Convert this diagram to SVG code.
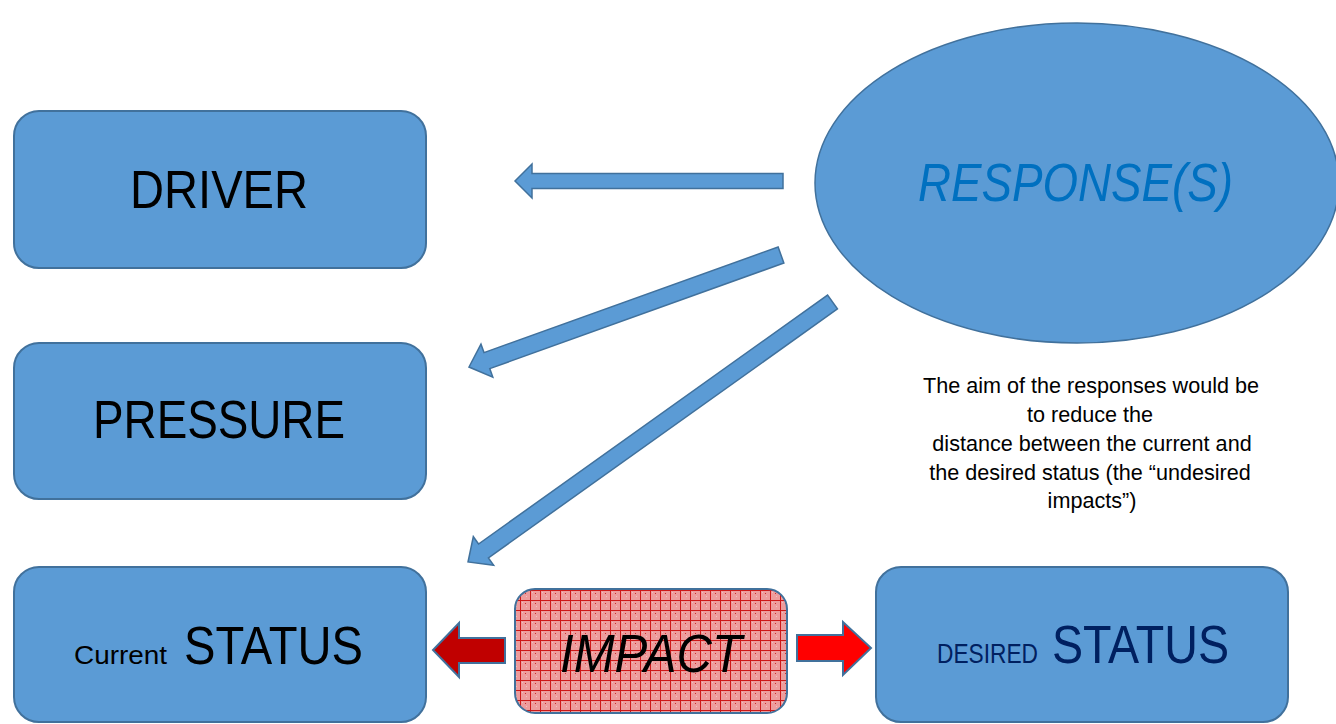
<svg xmlns="http://www.w3.org/2000/svg" width="1336" height="724" viewBox="0 0 1336 724">
<style>
.box{fill:#5B9BD5;stroke:#41719C;stroke-width:2}
.arr{fill:#5B9BD5;stroke:#41719C;stroke-width:1.5;stroke-linejoin:miter}
.big{font-family:"Liberation Sans",Arial,sans-serif;font-size:54px;fill:#000}
.para{font-family:"Liberation Sans",Arial,sans-serif;font-size:21.6px;fill:#000;text-anchor:middle}
</style>
<defs>
<pattern id="grid" width="10" height="10" patternUnits="userSpaceOnUse">
<rect width="10" height="10" fill="#EE9C9C"/>
<rect x="2" y="2" width="1" height="1" fill="#F6C0C0"/>
<rect x="6" y="6" width="1" height="1" fill="#F6C0C0"/>
<rect x="5" y="3" width="1" height="1" fill="#C00000" opacity="0.7"/>
<path d="M0 0.5H10M0.5 0V10" stroke="#C80000" stroke-width="1" opacity="0.85"/>
</pattern>
</defs>
<g id="connectors">
<polygon class="arr" points="783,173.5 532,173.5 532,164 515,181 532,198 532,188.5 783,188.5"/>
<polygon class="arr" transform="translate(781,255) rotate(160.25)" points="0,-8.5 312.5,-8.5 312.5,-17.5 331.5,0 312.5,17.5 312.5,8.5 0,8.5"/>
<polygon class="arr" transform="translate(832.5,302) rotate(144.5)" points="0,-8.5 428.7,-8.5 428.7,-17.5 447.7,0 428.7,17.5 428.7,8.5 0,8.5"/>
<polygon fill="#C00000" stroke="#41719C" stroke-width="2" points="505,638 459,638 459,623 433,650 459,677 459,663 505,663"/>
<polygon fill="#FF0000" stroke="#41719C" stroke-width="2" points="797,635 843,635 843,622 871,648 843,675 843,661 797,661"/>
</g>
<g id="driver">
<rect class="box" x="14" y="111" width="412" height="157" rx="25"/>
<text class="big" x="130" y="208" textLength="178" lengthAdjust="spacingAndGlyphs">DRIVER</text>
</g>
<g id="pressure">
<rect class="box" x="14" y="343" width="412" height="156" rx="25"/>
<text class="big" x="93" y="438" textLength="252" lengthAdjust="spacingAndGlyphs">PRESSURE</text>
</g>
<g id="current-status">
<rect class="box" x="14" y="567" width="412" height="155" rx="25"/>
<text font-family="Liberation Sans,Arial,sans-serif" font-size="25" x="74" y="664" textLength="93" lengthAdjust="spacingAndGlyphs">Current</text>
<text class="big" font-size="52" x="184" y="664" textLength="179" lengthAdjust="spacingAndGlyphs">STATUS</text>
</g>
<g id="impact">
<rect x="515" y="589" width="272" height="124" rx="20" fill="url(#grid)" stroke="#41719C" stroke-width="2"/>
<text class="big" font-style="italic" x="560" y="672" textLength="182" lengthAdjust="spacingAndGlyphs">IMPACT</text>
</g>
<g id="desired-status">
<rect class="box" x="876" y="567" width="412" height="155" rx="25"/>
<text font-family="Liberation Sans,Arial,sans-serif" font-size="28" fill="#002060" x="937" y="663" textLength="101" lengthAdjust="spacingAndGlyphs">DESIRED</text>
<text class="big" style="fill:#002060" x="1052" y="663" textLength="177" lengthAdjust="spacingAndGlyphs">STATUS</text>
</g>
<g id="responses">
<ellipse cx="1077" cy="183" rx="262" ry="160" fill="#5B9BD5" stroke="#41719C" stroke-width="1.5"/>
<text class="big" font-style="italic" style="fill:#0070C0" x="918" y="201" textLength="315" lengthAdjust="spacingAndGlyphs">RESPONSE(S)</text>
</g>
<g id="note">
<text class="para" x="1091" y="393">The aim of the responses would be</text>
<text class="para" x="1090" y="422">to reduce the</text>
<text class="para" x="1092" y="451">distance between the current and</text>
<text class="para" x="1090" y="480">the desired status (the “undesired</text>
<text class="para" x="1092" y="508">impacts”)</text>
</g>
</svg>
